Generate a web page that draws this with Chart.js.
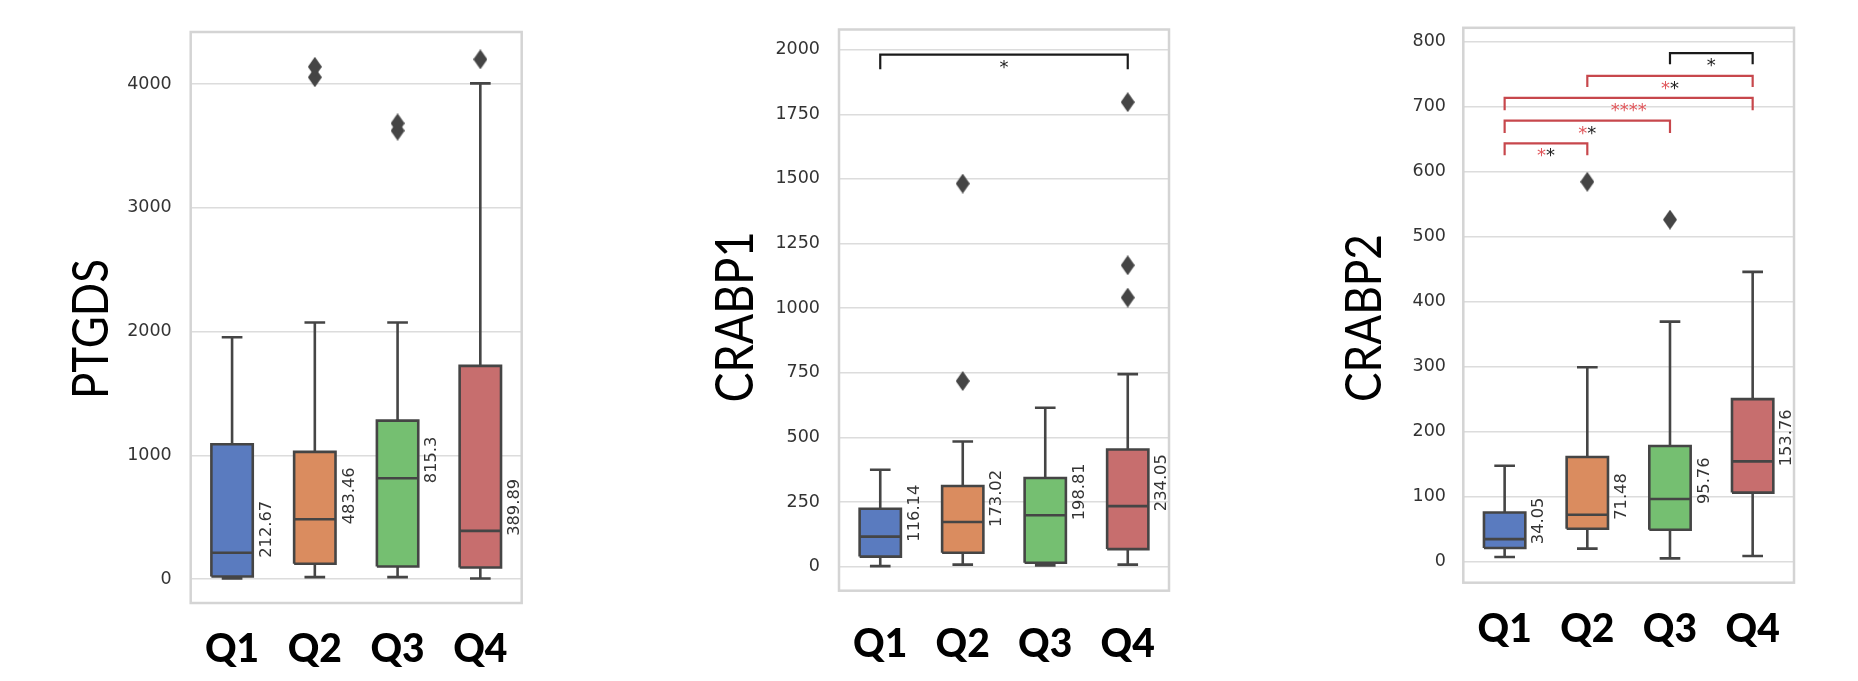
<!DOCTYPE html>
<html>
<head>
<meta charset="utf-8">
<script src="https://cdn.jsdelivr.net/npm/chart.js@4.4.1/dist/chart.umd.min.js"></script>
<style>
  body { margin: 0; background: #fff; width: 1858px; height: 681px; position: relative; overflow: hidden; }
  canvas { position: absolute; top: 0; }
</style>
</head>
<body>
<canvas id="ptgdsChart" width="560" height="681" style="left:0px"></canvas>
<canvas id="crabp1Chart" width="600" height="681" style="left:620px"></canvas>
<canvas id="crabp2Chart" width="608" height="681" style="left:1250px"></canvas>
<script>
// Data
const categories = ['Q1', 'Q2', 'Q3', 'Q4'];

// PTGDS
const ptgdsLow = [5, 16, 16, 5];
const ptgdsQ1 = [21, 124, 102, 94];
const ptgdsMedian = [212.67, 483.46, 815.3, 389.89];
const ptgdsQ3 = [1090, 1028, 1281, 1723];
const ptgdsHigh = [1955, 2073, 2073, 4006];
const ptgdsOutliers = [[], [4055, 4140], [3624, 3683], [4200]];
const ptgdsTicks = [0, 1000, 2000, 3000, 4000];

// CRABP1
const crabp1Low = [2, 8, 5, 8];
const crabp1Q1 = [39, 54, 15, 68];
const crabp1Median = [116.14, 173.02, 198.81, 234.05];
const crabp1Q3 = [224, 312, 343, 453];
const crabp1High = [375, 484, 615, 745];
const crabp1Outliers = [[], [718, 1482], [], [1041, 1166, 1797]];
const crabp1Ticks = [0, 250, 500, 750, 1000, 1250, 1500, 1750, 2000];
const crabp1PairFrom = [0];
const crabp1PairTo = [3];
const crabp1PairTop = [1981];
const crabp1PairBase = [1924];
const crabp1RedStars = [0];
const crabp1BlackStars = [1];

// CRABP2
const crabp2Low = [6.6, 19.5, 4.5, 8];
const crabp2Q1 = [20.5, 50, 48.4, 105.7];
const crabp2Median = [34.05, 71.48, 95.76, 153.76];
const crabp2Q3 = [75, 160.5, 177.4, 249.6];
const crabp2High = [147, 298.5, 368.8, 445.4];
const crabp2Outliers = [[], [584], [525.7], []];
const crabp2Ticks = [0, 100, 200, 300, 400, 500, 600, 700, 800];
const crabp2PairFrom = [2, 1, 0, 0, 0];
const crabp2PairTo = [3, 3, 3, 2, 1];
const crabp2PairTop = [782, 747, 713, 678, 643];
const crabp2PairBase = [765, 730, 694, 659, 625];
const crabp2RedStars = [0, 1, 4, 1, 1];
const crabp2BlackStars = [1, 1, 0, 1, 1];

// Styles
const boxColors = ['#5a7bbf', '#da8c5f', '#75bf71', '#c76e6e'];
const lineGray = '#454545';
const bracketRed = '#c7474c';
const starRed = '#e0575b';

// thin diamond marker like seaborn's 'd'
function diamond() {
    const c = document.createElement('canvas');
    c.width = 14; c.height = 20;
    const g = c.getContext('2d');
    g.fillStyle = lineGray;
    g.beginPath();
    g.moveTo(7, 0); g.lineTo(14, 10); g.lineTo(7, 20); g.lineTo(0, 10);
    g.closePath();
    g.fill();
    return c;
}
const diamondMarker = diamond();

// box outlines, whiskers, caps and medians as one broken line
function boxLines(low, q1, med, q3, high) {
    const pts = [];
    const gap = i => ({ x: i, y: null });
    categories.forEach((_, i) => {
        pts.push({ x: i - 0.25, y: q1[i] }, { x: i + 0.25, y: q1[i] }, { x: i + 0.25, y: q3[i] },
                 { x: i - 0.25, y: q3[i] }, { x: i - 0.25, y: q1[i] }, gap(i));
        pts.push({ x: i, y: q3[i] }, { x: i, y: high[i] }, gap(i));
        pts.push({ x: i, y: q1[i] }, { x: i, y: low[i] }, gap(i));
        pts.push({ x: i - 0.125, y: high[i] }, { x: i + 0.125, y: high[i] }, gap(i));
        pts.push({ x: i - 0.125, y: low[i] }, { x: i + 0.125, y: low[i] }, gap(i));
        pts.push({ x: i - 0.25, y: med[i] }, { x: i + 0.25, y: med[i] }, gap(i));
    });
    return pts;
}

function makeChart(id, p) {
    const datasets = [];
    // box bodies: top edge filled down to the lower quartile
    categories.forEach((_, i) => {
        datasets.push({
            type: 'line',
            data: [{ x: i - 0.25, y: p.q3[i] }, { x: i + 0.25, y: p.q3[i] }],
            fill: { value: p.q1[i] },
            backgroundColor: boxColors[i],
            borderWidth: 0,
            pointRadius: 0,
            order: 5
        });
    });
    datasets.push({
        type: 'line',
        data: boxLines(p.low, p.q1, p.median, p.q3, p.high),
        borderColor: lineGray,
        borderWidth: 2.6,
        borderJoinStyle: 'miter',
        pointRadius: 0,
        spanGaps: false,
        order: 2
    });
    const outPts = [];
    p.outliers.forEach((vals, i) => vals.forEach(v => outPts.push({ x: i, y: v })));
    datasets.push({
        type: 'scatter',
        data: outPts,
        pointStyle: diamondMarker,
        pointRadius: 7,
        order: 1
    });
    (p.pairFrom || []).forEach((f, k) => {
        const t = p.pairTo[k];
        datasets.push({
            type: 'line',
            data: [{ x: f, y: p.pairBase[k] }, { x: f, y: p.pairTop[k] },
                   { x: t, y: p.pairTop[k] }, { x: t, y: p.pairBase[k] }],
            borderColor: p.redStars[k] > 0 ? bracketRed : '#1a1a1a',
            borderWidth: 2.2,
            pointRadius: 0,
            order: 0
        });
    });

    const deco = {
        id: 'deco',
        beforeDatasetsDraw(chart) {
            const { ctx, chartArea: a } = chart;
            ctx.save();
            ctx.strokeStyle = '#d4d4d4';
            ctx.lineWidth = 2.5;
            ctx.strokeRect(a.left, a.top, a.right - a.left, a.bottom - a.top);
            ctx.restore();
        },
        afterDatasetsDraw(chart) {
            const ctx = chart.ctx;
            const xs = chart.scales.x, ys = chart.scales.y;
            ctx.save();
            // median values next to each box
            ctx.font = '16.3px "DejaVu Sans"';
            ctx.fillStyle = '#333';
            p.median.forEach((m, i) => {
                ctx.save();
                ctx.translate(xs.getPixelForValue(i + 0.25) + 18, ys.getPixelForValue(m) + 5);
                ctx.rotate(-Math.PI / 2);
                ctx.textAlign = 'left';
                ctx.textBaseline = 'alphabetic';
                ctx.fillText(String(m), 0, 0);
                ctx.restore();
            });
            // significance stars
            ctx.font = '18px "DejaVu Sans"';
            ctx.textAlign = 'left';
            ctx.textBaseline = 'alphabetic';
            (p.pairFrom || []).forEach((f, k) => {
                const red = '*'.repeat(p.redStars[k]);
                const black = '*'.repeat(p.blackStars[k]);
                const wR = ctx.measureText(red).width, wB = ctx.measureText(black).width;
                let x = (xs.getPixelForValue(f) + xs.getPixelForValue(p.pairTo[k])) / 2 - (wR + wB) / 2;
                const y = ys.getPixelForValue(p.pairTop[k]) + 18;
                ctx.fillStyle = starRed;
                ctx.fillText(red, x, y);
                x += wR;
                ctx.fillStyle = '#222';
                ctx.fillText(black, x, y);
            });
            // y axis title, squeezed along its length like the narrow original
            ctx.translate(p.titleX, p.titleY);
            ctx.rotate(-Math.PI / 2);
            ctx.font = p.titleSize + 'px Lato';
            const w = ctx.measureText(p.title).width;
            ctx.scale(p.titleLen / w, 1);
            ctx.fillStyle = '#000';
            ctx.textAlign = 'center';
            ctx.textBaseline = 'alphabetic';
            ctx.fillText(p.title, 0, 0);
            ctx.restore();
        }
    };

    const canvas = document.getElementById(id);
    return new Chart(canvas.getContext('2d'), {
        type: 'line',
        data: { datasets: datasets },
        options: {
            responsive: false,
            animation: false,
            events: [],
            layout: { padding: { left: 0, right: canvas.width - p.plotRight, top: p.plotTop, bottom: 0 } },
            plugins: { legend: { display: false }, tooltip: { enabled: false } },
            scales: {
                x: {
                    type: 'linear',
                    min: -0.5,
                    max: 3.5,
                    grid: { display: false, drawTicks: false },
                    border: { display: false },
                    ticks: {
                        color: '#000',
                        padding: p.qPad,
                        font: { family: 'Lato', size: 39, weight: '900' },
                        callback: v => categories[v]
                    },
                    afterBuildTicks: s => { s.ticks = categories.map((_, i) => ({ value: i })); },
                    afterFit: s => { s.height = canvas.height - p.plotBottom; }
                },
                y: {
                    type: 'linear',
                    min: p.yMin,
                    max: p.yMax,
                    grid: { color: '#dcdcdc', lineWidth: 1.5, drawTicks: false },
                    border: { display: false },
                    ticks: {
                        color: '#333',
                        padding: p.tickPad,
                        font: { family: 'DejaVu Sans', size: 17.5 },
                        callback: v => String(v)
                    },
                    afterBuildTicks: s => { s.ticks = p.ticks.map(v => ({ value: v })); },
                    afterFit: s => { s.width = p.plotLeft; }
                }
            }
        },
        plugins: [deco]
    });
}

makeChart('ptgdsChart', {
    low: ptgdsLow, q1: ptgdsQ1, median: ptgdsMedian, q3: ptgdsQ3, high: ptgdsHigh,
    outliers: ptgdsOutliers, ticks: ptgdsTicks, title: 'PTGDS',
    yMin: -193, yMax: 4421,
    plotLeft: 190.7, plotRight: 521.7, plotTop: 32, plotBottom: 603,
    tickPad: 19, qPad: 23, titleX: 108, titleY: 329, titleSize: 51, titleLen: 140
});

makeChart('crabp1Chart', {
    low: crabp1Low, q1: crabp1Q1, median: crabp1Median, q3: crabp1Q3, high: crabp1High,
    outliers: crabp1Outliers, ticks: crabp1Ticks, title: 'CRABP1',
    pairFrom: crabp1PairFrom, pairTo: crabp1PairTo, pairTop: crabp1PairTop, pairBase: crabp1PairBase,
    redStars: crabp1RedStars, blackStars: crabp1BlackStars,
    yMin: -93, yMax: 2078,
    plotLeft: 219, plotRight: 549, plotTop: 19.3, plotBottom: 590.7,
    tickPad: 19, qPad: 30.5, titleX: 133, titleY: 317, titleSize: 52.3, titleLen: 171
});

makeChart('crabp2Chart', {
    low: crabp2Low, q1: crabp2Q1, median: crabp2Median, q3: crabp2Q3, high: crabp2High,
    outliers: crabp2Outliers, ticks: crabp2Ticks, title: 'CRABP2',
    pairFrom: crabp2PairFrom, pairTo: crabp2PairTo, pairTop: crabp2PairTop, pairBase: crabp2PairBase,
    redStars: crabp2RedStars, blackStars: crabp2BlackStars,
    yMin: -33, yMax: 821,
    plotLeft: 213.3, plotRight: 544, plotTop: 11.7, plotBottom: 582.7,
    tickPad: 17.3, qPad: 23, titleX: 131, titleY: 318, titleSize: 49.5, titleLen: 168
});
</script>
</body>
</html>
